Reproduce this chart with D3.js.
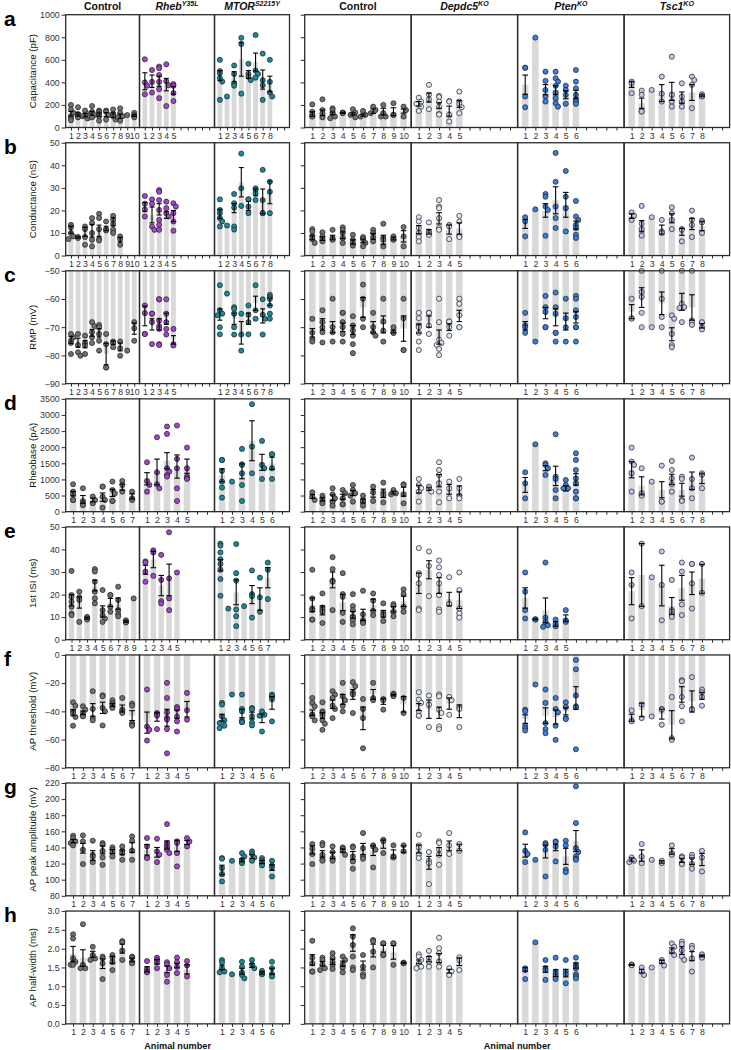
<!DOCTYPE html>
<html><head><meta charset="utf-8">
<script src="https://cdn.jsdelivr.net/npm/d3@7"></script>
<style>
body{margin:0;background:#fff}
svg{display:block}
text{font-family:Arial,"Liberation Sans",Helvetica,sans-serif}
</style>
</head><body><svg id="c" width="731" height="1050"></svg>
<script>
// ---------- labels / axes ----------
const rowLetters = ["a","b","c","d","e","f","g","h"];
const yTitles = ["Capacitance (pF)","Conductance (nS)","RMP (mV)","Rheobase (pA)","1st ISI (ms)","AP threshold (mV)","AP peak amplitude (mV)","AP half-width (ms)"];
const yDomains = [[0,1000],[0,50],[-90,-50],[0,3500],[0,50],[-80,0],[80,220],[0,3]];
const yTickSteps = [200,10,10,500,10,20,20,0.5];
const leftSlots = [10,10,10,7,9,7,7,7];
const headerBase = ["Control","Rheb","MTOR","Control","Depdc5","Pten","Tsc1"];
const headerSup = ["","Y35L","S2215Y","","KO","KO","KO"];
const headerItalic = [false,true,true,false,true,true,true];
const dotColors = ["#717171","#a545cf","#1b8a9a","#717171","#dde6f4","#3d7fd6","#c6c3ec"];

// ---------- data: [mean, sem, [individual cells]] per animal ----------
// a: capacitance
const cap_ctrl1 = [[122,20,[200,160,130,100,80,65]],[115,15,[180,120,100,95,90]],[110,15,[150,120,100,80]],[125,18,[190,140,110,100,90]],[115,15,[150,140,120,100,60]],[115,18,[150,140,110,70]],[110,20,[160,120,100,70]],[100,20,[170,130,100,90,60]],[110,0,[110]],[105,8,[130,110,100,90]]];
const cap_rheb = [[410,75,[605,400,370,295]],[410,55,[510,405,310]],[410,45,[540,525,465,405,340,260]],[380,55,[560,410,375,190]],[330,35,[385,370,305,235]]];
const cap_mtor = [[460,45,[600,500,480,437,407,245]],[275,0,[275]],[450,45,[550,475,392,370]],[605,150,[795,740,300]],[470,35,[565,475,450,420]],[580,80,[820,505,475,442]],[425,85,[655,420,375,245]],[385,70,[600,405,310,275]]];
const cap_ctrl2 = [[120,20,[205,140,112,97]],[130,25,[250,155,127,90]],[125,12,[170,155,127,97,82]],[130,5,[133,130,128]],[120,10,[162,133,112,90]],[110,10,[147,112,97]],[145,20,[185,155,127]],[140,30,[200,127,97,97]],[140,35,[215,112,112]],[145,18,[185,155,97]]];
const cap_depdc5 = [[210,20,[265,230,210,185,147]],[265,40,[378,290,250,162]],[195,25,[280,270,230,185,120,115]],[145,45,[235,230,112,53]],[210,30,[318,230,210,180,127]]];
const cap_pten = [[380,85,[530,530,275,180]],[797,0,[797]],[335,45,[495,413,333,275,230]],[330,40,[495,437,407,370,310,260,215,185]],[290,35,[370,333,290,210]],[295,35,[510,407,348,290,245,230,210]]];
const cap_tsc1 = [[380,25,[407,392,304]],[215,45,[327,290,142,142]],[333,0,[333]],[305,75,[451,300,230]],[320,80,[628,290,230,185]],[265,50,[392,275,230,185]],[310,70,[451,420,378,171]],[280,8,[295,280,275]]];
// b: conductance
const gc_ctrl1 = [[11.4,1.5,[13.6,12.5,10,8.5,7.3]],[8,0.3,[8.2,7.8]],[10.5,2,[12.9,11.7,8.2,4.8]],[11,2.8,[16.6,14.4,10,7,4.1]],[11,2.5,[18.5,16.6,11.7,7.3,6.7]],[12,1,[15.1,11.7,11.1]],[15,1.8,[17.6,15.8,14,11.4,10]],[7,1,[8.5,7.3,4.8]],null,null];
const gc_rheb = [[21.5,2,[26.4,23,20.5,17.3]],[18,3.5,[24.9,22.9,12.9,11.4]],[20.5,2.5,[29,28.3,24.6,20.2,15.8,13.6,11.4]],[18,1.5,[23.9,21,18.8,17.3]],[17.5,2.5,[23.2,21.7,18.8,15.1,11]]];
const gc_mtor = [[18.5,2,[24.9,20.2,18.8,16.6,15.1,12.9]],[13.3,0,[13.3]],[21,2,[27.3,23.2,21.3,12.9,11.5]],[32.5,6.5,[45.2,29.8,22]],[22,2,[24.9,24.9,21.7,18.8]],[28,1.5,[29.8,29,27.6,24.6]],[24,5.5,[38,24.6,18.8,18.8]],[28,5,[32.7,28.3,18.8]]];
const gc_ctrl2 = [[8,1,[11.7,10.7,8.5,7.3,5.6]],[7.5,0.8,[10.3,8.5,7.3,6.3]],[8,1,[11.4,7.8,7]],[9,1.5,[12.5,11.4,10,7.8,5.6]],[6,1,[9.2,7,5.6,4.4]],[6.5,0.8,[8.2,7.3,5.6,4.1]],[8.5,1.3,[11.4,10,8.2,6.3]],[7,2,[14.1,7.8,7,4.1]],[7.5,0.6,[8.5,7.3,7]],[8.5,2.5,[12.6,8.5,4.1]]];
const gc_depdc5 = [[11.5,1.8,[17,15.1,12.2,10,8.2,6.3]],[10.5,1,[14.7,10.7,10,9.2]],[16.5,2.5,[24.6,21.7,21,16.6,12.2,11.4]],[11.5,2,[13.6,12.9,7.3]],[12,2.5,[17.6,15.1,8.5,8.2]]];
const gc_pten = [[14,2,[17,15.1,8.5]],[20.5,0,[20.5]],[20,3,[27.3,26.1,21.7,20.2,8.8]],[24.5,6,[45.5,32.7,21.7,16.6,12.2]],[22.5,5.5,[37.5,26.1,21,10.7]],[13.5,1.8,[24.2,17.3,15.8,13.6,12.2,9.2,7.8]]];
const gc_tsc1 = [[17.5,1,[19.1,17.6,15.8]],[13,2.5,[22,14.1,11.7,8.8]],[17,0,[17]],[11.5,2,[15.8,10.7,10]],[16.5,2,[21.4,18.8,15.8,11.7]],[10.5,1.5,[11.7,11.4,6.3]],[14,2.5,[19.9,15.8,13.6,8.2]],[13,2,[15.5,14.7,10]]];
// c: RMP
const rmp_ctrl1 = [[-74.5,1.2,[-72.4,-73.6,-74.8,-75.6,-79.5]],[-75.5,1.6,[-72.4,-76.3,-78.9,-80.1]],[-76,1.3,[-73,-75.6,-76.5,-79.5]],[-72,1.2,[-68.2,-69.6,-71.8,-73.6,-75.6]],[-72,1.5,[-69.2,-70,-72.4,-74.8,-78.3]],[-79.5,3.8,[-72.4,-76,-84.3,-84.3]],[-75.5,0.6,[-75.1,-75.6,-77.1]],[-77,1.4,[-75.1,-77.5,-80.1]],[-78.3,0,[-78.3]],[-70.5,2,[-68.2,-70.4,-74.8]]];
const rmp_rheb = [[-66,3.5,[-62.3,-65,-72.4,-72.4]],[-69,2,[-65.2,-65.2,-68.2,-76]],[-69,2,[-60.1,-60.1,-67.6,-69.6,-70.6,-76,-76.3]],[-67,2,[-60.1,-65.2,-68.2,-70.6,-72.6]],[-74.5,1.5,[-70.6,-76,-76.5]]];
const rmp_mtor = [[-65.5,2,[-55.1,-64,-65.2,-65.8,-70,-72.5]],[-58,0,[-58.1]],[-67,2,[-62.9,-63.5,-65.2,-70,-72.6]],[-72,4,[-65.2,-72.6,-78.3]],[-67,2,[-62.3,-65.6,-68.2,-72.5]],[-61.5,2.5,[-55.1,-64,-67]],[-66,2.5,[-60.1,-65.6,-67,-72.6]],[-61,1.3,[-58.5,-59.3,-59.9,-62.3,-65.2,-67]]];
const rmp_ctrl2 = [[-72,1.5,[-67,-72,-74.2,-75.1]],[-69,2,[-64,-68.2,-70,-71.8,-75.4]],[-70,2,[-59.9,-70,-71.8,-75.1]],[-70,1.5,[-64.9,-64.9,-68.2,-70,-72.4,-75.1]],[-71,1.6,[-66.1,-69.4,-71.2,-73,-76,-79.2]],[-63,3.5,[-54.9,-59.9,-67,-70]],[-70,2,[-64.9,-70,-71.8,-73]],[-69,3,[-59.9,-68,-71.2,-75.1]],[-71.5,0.5,[-70,-72,-72]],[-70.5,4.5,[-59.9,-66.8,-78.1,-78.1]]];
const rmp_depdc5 = [[-70.5,1.6,[-64.9,-66.8,-69.4,-70,-72,-75.1,-78.1]],[-68,2,[-64.9,-64.9,-69.4,-72.4]],[-73.5,2.5,[-59.9,-68.2,-74.4,-75.6,-76.3,-77.7,-79.9]],[-70,1.2,[-68,-68,-70,-73]],[-66,2,[-59.9,-61.7,-65.8,-70,-70]]];
const rmp_pten = [[-69.5,1.5,[-64.9,-69.4,-70,-72]],[-75,0,[-75.1]],[-65,2,[-58.9,-62.9,-64.6,-70,-70]],[-66.5,3,[-57.7,-62.9,-65.2,-72,-72,-75.1]],[-68,3,[-59.9,-66.8,-70,-75.1]],[-66.5,2,[-58.9,-59.9,-64,-66.4,-70,-70,-75.1]]];
const rmp_tsc1 = [[-64.5,2.5,[-59.9,-66.8,-67]],[-59.5,3.5,[-50,-57.5,-59.3,-64.9,-70]],[-70,0,[-70]],[-61.5,4,[-50,-59.9,-66.4,-70]],[-72.5,2.3,[-65.8,-67,-72.4,-76.3,-77.1]],[-61,3,[-50,-61.7,-62.9,-63.2,-68.2]],[-63,4.5,[-50,-67.6,-68.2,-69.2]],[-69.5,0.8,[-68.2,-70,-70.8]]];
// d: rheobase
const rheo_ctrl1 = [[560,70,[850,620,540,360,360]],[380,120,[725,330,260,200]],[360,60,[470,360,260]],[450,130,[777,777,466,362,124]],[580,110,[932,673,570,331,331]],[760,95,[953,828,621]],[470,80,[621,414,362]]];
const rheo_rheb = [[1020,190,[1533,950,828,621]],[1230,400,[2310,1222,849,725]],[1580,250,[2640,2413,1346,1243,1139,1087]],[1400,360,[2672,1636,1346,725,331]],[1410,220,[1988,1346,1087,1036,1015]]];
const rheo_mtor = [[1130,200,[1605,1605,1263,932,746,435]],[932,0,[932]],[1250,230,[1947,1470,1450,1191,828,331]],[2200,620,[3334,2019,1191]],[1530,250,[2195,1450,1346,1015]],[1500,190,[1781,1781,1346,1015]]];
const rheo_ctrl2 = [[470,60,[600,466,362]],[380,50,[497,414,331,259]],[430,90,[725,538,414,311,186]],[460,80,[673,570,414,228,228]],[580,80,[828,673,570,497,311]],[330,60,[497,362,311,186]],[570,120,[777,600,331]],[570,130,[900,600,518,290]],[590,40,[673,570,538]],[620,140,[849,828,538,259]]];
const rheo_depdc5 = [[700,120,[1015,828,725,621,311]],[700,40,[777,725,621]],[960,190,[1533,1294,1139,880,621,290]],[690,150,[932,725,414]],[660,140,[1015,725,497,414]]];
const rheo_pten = [[830,230,[1222,880,414]],[2092,0,[2092]],[1350,80,[1501,1450,1346,1139]],[1110,300,[2402,1087,1015,673,414]],[720,80,[984,828,725,725]],[1000,180,[1812,1605,1294,1036,880,621,414,414]]];
const rheo_tsc1 = [[1300,250,[1988,1553,1450,1191,621]],[800,280,[1346,570,497]],[932,0,[932]],[680,250,[1429,311,311]],[1000,160,[1574,1294,1036,849,621]],[680,200,[1087,1015,362,331]],[960,270,[1678,1015,725,414]],[1020,150,[1191,1139,725]]];
// e: 1st ISI
const isi_ctrl1 = [[17.5,2.5,[30.5,19.8,18.8,16.8,14.6,11.6,10.9]],[16.5,2.5,[21.3,18.8,17.6,7.9]],[9.5,0.4,[10.1,9.4,8.9]],[24,2.4,[31.3,30.2,25.7,21.3,18.3,16.1]],[12.5,2.5,[22,13.1,10.9,9.4,7.9]],[16.5,1.8,[19.8,19.8,14.6,12.4]],[16,2.5,[23.5,17.6,13.1,11.3,10.4]],[8,0.3,[8.6,7.9,7.6]],[18.3,0,[18.3]]];
const isi_rheb = [[31,2,[34.7,34.2,30.2,25.7]],[35.5,3.6,[39.6,38.7,28.3]],[24,4.5,[37.6,26.5,17.1,16.1]],[26.5,7,[47.6,27.2,18.3,13.1]],[29.8,0,[29.8]]];
const isi_mtor = [[33,2.5,[42.6,41.7,38.7,35.7,33.6,31,26.9,19.5]],[13.8,0,[13.8]],[21,5.5,[42.4,29.5,26.2,13.4,10.4,6]],[14.9,0,[14.9]],[20,4,[30.7,20.2,19.3,9.8]],[18,5,[27.5,18.8,12.4]],[27.5,4.5,[34.2,31,18]]];
const isi_ctrl2 = [[15.5,3,[31,18.3,13.8,13.1,8.9,8.9]],[13,2,[20.5,14.3,13.4,12.4,7.4]],[26.5,3.5,[36.6,31.3,26.2,25.7,13.1]],[16.5,3.6,[29.5,20.2,19,11.9,7.9]],[11,1.5,[20.2,14.9,13.1,10.4,9.8,8.6,6.8]],[11,2.5,[21.7,11.3,8.6,7.9,7.4]],[15.5,2.5,[20.5,17.3,12.8,10.9]],[11.5,1.5,[16.1,11.9,10.9,8.3]],[13.5,1.2,[15.8,14.9,12.4,10.4]],[17,2.3,[22.3,20.2,14.6,12.4]]];
const isi_depdc5 = [[25,4.5,[40.6,29.5,28.7,25,13.8,13.1]],[31,4,[39.1,32.7,19.3]],[24,3.5,[35.1,32.1,28.7,25,19.8,13.4,12.4]],[18,3,[27.7,15.8,15.8]],[17.5,3.7,[29.8,22,13.8,11.6,9.8]]];
const isi_pten = [[18.5,4.5,[29.8,21.3,13.1,9.4]],[9,0.2,[8.9,9.1]],[13,5.5,[34.2,9.8,7.9,6.4,5.7]],[7,1,[8.9,7.1,6]],[9.5,1.5,[13.1,8.6,7.9]]];
const isi_tsc1 = [[21.5,6,[29.8,24.3,9.4]],[28.7,13.9,[42.6,14.9]],[27.7,0,[27.7]],[24,9,[39.1,24.3,8.6]],[15,3.7,[26.5,13.1,12.4,11.3,10.1]],[23,5.5,[34.2,30.2,15.6,10.9]],[25,5,[33.6,33.6,25,13.8]],[27,6.4,[33.6,20.8]]];
// f: AP threshold
const thr_ctrl1 = [[-41,2.2,[-33.6,-36,-40,-41.2,-44,-50.2]],[-41,1.3,[-36.4,-38.8,-41.7,-43.1,-43.6]],[-39,4.5,[-25.7,-38.3,-44.8,-46.4]],[-37.5,4,[-28.6,-29.3,-37.6,-40,-50]],[-35.5,1,[-32.1,-34,-35.2,-36.9,-37.6]],[-38,2.5,[-30.5,-38.8,-40,-41.2]],[-43,3.5,[-34.5,-36,-48.3,-49.5,-50.2]]];
const thr_rheb = [[-48,7.5,[-24.5,-50.7,-53.1,-60.7]],[-44,3,[-41.2,-41.7,-43.1,-52.6]],[-44.5,6,[-19.8,-30.5,-40.7,-44.8,-45.9,-52.6,-69.8]],[-42,3,[-36.9,-38.3,-43.6,-47.1,-54.3]],[-38.5,5.5,[-26.9,-39.3,-45.9]]];
const thr_mtor = [[-44.5,2.4,[-34,-35.2,-43.6,-46.4,-48.3,-50.2,-51.9]],[-28,0,[-28.1]],[-41.5,3,[-28.1,-38.3,-40,-46.4,-47.6,-47.6]],[-43,2.5,[-37.6,-38.3,-43.6,-47.9,-50]],[-45,3,[-40,-42.4,-43.1,-54.3]],[-34,4.5,[-28.1,-29.3,-31.2,-47.1]]];
const thr_ctrl2 = [[-41,2,[-30.5,-34,-36.4,-42.4,-42.4,-43.6,-46.4]],[-43,2,[-33.6,-40,-41.2,-43.1,-46.4,-48.8,-53.1]],[-35,3,[-25.7,-28.1,-30.5,-36,-38.3,-44.8]],[-31.5,3.5,[-19.8,-29.3,-32.1,-36,-40]],[-28,3.5,[-19.3,-22.1,-26.9,-28.1,-41.2]],[-45,8,[-31.2,-38.3,-44.8,-66.2]],[-28,3.5,[-19.8,-30.5,-32.1]],[-33,2,[-31.2,-32.1,-38.8]],[-28.5,0.5,[-27.4,-28.1,-29.3]],[-35,5.5,[-30.5,-41.2]]];
const thr_depdc5 = [[-37,2.5,[-26.4,-31.7,-34,-40,-43.1,-43.1]],[-38.5,6.5,[-28.8,-35.2,-51.2]],[-41,4,[-28.1,-29.3,-38.8,-41.2,-50.7,-52.6]],[-34.5,4,[-29.8,-32.1,-42.4]],[-40,4.5,[-36.9,-38.3,-51.2]]];
const thr_pten = [[-45.5,3,[-38.8,-40,-50.2,-51.9,-53.6]],[-21,0,[-21]],[-43,5.5,[-24.5,-34,-48.3,-52.6,-55.5]],[-44,5,[-30.5,-38.3,-40.7,-50.2,-60.2]],[-40,2.5,[-33.6,-36.9,-44.8,-45.5]],[-30.5,8,[-3.6,-10.2,-28.8,-36.4,-37.1,-66.9]]];
const thr_tsc1 = [[-44.5,2.5,[-39.3,-46.4,-47.1]],[-39,4.8,[-35.2,-44.8]],[-43.6,0,[-43.6]],[-42,3.5,[-38.3,-38.8,-49.5]],[-49.5,10,[-29.8,-59,-60.2]],[-28,5.5,[-17.9,-18.6,-29.8,-36.4,-47.1]],[-33,7.5,[-15.7,-38.3,-38.8]],[-29,2.5,[-24.5,-26.4,-29.8,-36]]];
// g: AP peak amplitude
const amp_ctrl1 = [[148,2,[154.6,151.7,147.5,145.5,142.6]],[139,6,[155,147.5,137.2,119.4]],[130,6,[148.4,131,128.9,121.8]],[137,5,[145.5,143.4,135.9,127.6,118.5]],[135,2.5,[140.1,137.2,134.3,128.9]],[134,3,[141.3,135.9,133,124.7]],[140,6,[153.7,148.4,135.9,124.7]]];
const amp_rheb = [[137,6.5,[151.7,141.3,127.6,126.8]],[134,6,[150.8,135.1,131,121.8]],[143,5,[169,145.5,142.6,140.1,137.2,133]],[142,7,[147.5,145.5,133,116.5]],[146,2.5,[151.7,147.5,141.3]]];
const amp_mtor = [[112,6,[126.8,126,114.4,106.9,97.8]],[123.5,0,[123.5]],[124,2,[133,128.9,124.7,121.8,120.6]],[129,2.5,[135.1,131.8,127.6,123.5]],[122,2,[126.8,123.5,120.6,117.7]],[115,3.5,[123.5,117.7,115.2,104]]];
const amp_ctrl2 = [[137,5,[144.2,138.4,131.8,119.4]],[132,4,[145.5,142.6,131,124.7,123.5]],[130,4,[141.3,134.3,126.8,123.5]],[136,2,[140.1,138.4,135.9,131]],[130,5,[141.3,140.1,128.9,122.7,113.6]],[138,7,[157.9,139.2,128.9,126]],[136,6,[142.6,141.3,137.2,115.2]],[144,5,[149.6,147.5,133]],[132,5,[142.6,128.9,127.6]],[138,4,[142.6,135.1]]];
const amp_depdc5 = [[138,5,[155.8,142.6,140.1,131.8,126.8]],[121,8,[134.3,123.5,120.6,94.5]],[135,5,[147.5,145.5,137.2,131,118.5]],[142,6,[157.9,142.6,131.8]],[140,4,[144.2,135.9]]];
const amp_pten = [[136,8,[158.7,135.9,131.8,121.8]],[124.7,0,[124.7]],[135,8,[145.5,143.4,137.2,104]],[140,4,[147.5,146.7,141.3,122.7]],[129,10,[148.4,142.6,112.3,109.4]],[148,13,[215.9,170.3,139.2,134.3,128.9,126,124.7]]];
const amp_tsc1 = [[125,2,[127.6,123.5,121.8]],[130,7,[144.2,128.9,120.6]],[124.7,0,[124.7]],[122,1.5,[123.5,120.6]],[135,3.5,[142.6,133,131]],[124,2.5,[128.9,127.6,120.6,119.4]],[123,4,[131,127.6,119.4,113.6]],[125,7.5,[135.9,127.6,110.2]]];
// h: AP half-width
const hw_ctrl1 = [[1.86,0.2,[2.38,2.27,1.74,1.65,1.57,1.57]],[1.75,0.22,[2.65,1.57,1.48,1.48]],[1.85,0.08,[2.05,1.83,1.74,1.70]],[1.6,0.13,[1.79,1.74,1.61,1.19]],[1.7,0.09,[1.83,1.76,1.64,1.43]],[2.0,0.12,[2.2,2.17,1.95,1.7]],[1.7,0.05,[1.79,1.76,1.65,1.61]]];
const hw_rheb = [[1.45,0.07,[1.67,1.46,1.39,1.37]],[1.65,0.06,[1.76,1.70,1.64,1.48]],[1.45,0.09,[1.64,1.58,1.48,1.30,1.12]],[1.55,0.06,[1.76,1.64,1.52,1.35]],[1.45,0.12,[1.67,1.55,1.26]]];
const hw_mtor = [[1.5,0.06,[1.70,1.64,1.48,1.39,1.37]],[1.32,0,[1.32]],[1.4,0.08,[1.65,1.52,1.37,1.30,1.21]],[1.55,0.05,[1.70,1.58,1.48]],[1.35,0.03,[1.41,1.35,1.32]],[1.4,0.08,[1.65,1.48,1.32,1.26]]];
const hw_ctrl2 = [[1.7,0.14,[2.21,1.76,1.61,1.39,1.39]],[1.6,0.06,[1.76,1.70,1.58,1.48,1.43]],[1.65,0.07,[1.88,1.76,1.65,1.57,1.46]],[1.6,0.07,[1.79,1.70,1.58,1.50,1.37]],[2.15,0.22,[2.54,2.32,2.10,1.79,1.50,1.43]],[1.55,0.12,[1.83,1.52,1.32,1.26]],[1.95,0.17,[2.23,2.2,1.92,1.50]],[2.0,0.09,[2.14,2.14,1.83,1.83]],[1.9,0.18,[2.14,2.14,1.57]],[1.62,0.02,[1.63,1.61]]];
const hw_depdc5 = [[1.65,0.05,[1.85,1.79,1.70,1.61,1.52,1.48]],[1.72,0.07,[1.94,1.76,1.65,1.52]],[1.75,0.12,[2.29,2.01,1.88,1.65,1.52]],[1.4,0.05,[1.48,1.39,1.30]],[1.65,0.1,[1.77,1.70,1.43]]];
const hw_pten = [[1.45,0.05,[1.48,1.43,1.19]],[2.17,0,[2.17]],[1.45,0.08,[1.70,1.48,1.43,1.17]],[1.35,0.09,[1.76,1.39,1.32,1.26,1.19]],[1.35,0.1,[1.70,1.39,1.32,1.08]],[1.55,0.07,[1.76,1.58,1.52,1.48,1.32,1.26,1.21]]];
const hw_tsc1 = [[1.57,0.01,[1.58,1.57,1.56]],[1.4,0.05,[1.50,1.39,1.30]],[1.5,0,[1.5]],[1.65,0.04,[1.70,1.65,1.55]],[1.95,0.07,[2.14,2.05,1.92,1.83]],[1.95,0.1,[2.19,2.12,1.96,1.79,1.70]],[1.8,0.12,[2.08,2.01,1.74,1.39]],[1.8,0.02,[1.85,1.79,1.76]]];

const rowsData = [
  [cap_ctrl1,cap_rheb,cap_mtor,cap_ctrl2,cap_depdc5,cap_pten,cap_tsc1],
  [gc_ctrl1,gc_rheb,gc_mtor,gc_ctrl2,gc_depdc5,gc_pten,gc_tsc1],
  [rmp_ctrl1,rmp_rheb,rmp_mtor,rmp_ctrl2,rmp_depdc5,rmp_pten,rmp_tsc1],
  [rheo_ctrl1,rheo_rheb,rheo_mtor,rheo_ctrl2,rheo_depdc5,rheo_pten,rheo_tsc1],
  [isi_ctrl1,isi_rheb,isi_mtor,isi_ctrl2,isi_depdc5,isi_pten,isi_tsc1],
  [thr_ctrl1,thr_rheb,thr_mtor,thr_ctrl2,thr_depdc5,thr_pten,thr_tsc1],
  [amp_ctrl1,amp_rheb,amp_mtor,amp_ctrl2,amp_depdc5,amp_pten,amp_tsc1],
  [hw_ctrl1,hw_rheb,hw_mtor,hw_ctrl2,hw_depdc5,hw_pten,hw_tsc1]
];

// ---------- layout ----------
const svg = d3.select("#c");
const rowTop0 = 14.7, rowStep = 128.05, rowH = 112.8;
const leftEdges = [65.7,139.5,214.5,289.5];
const rightEdges = [304.7,411.2,517.6,624.1,729.6];
const panelEdges = p => p < 3 ? [leftEdges[p], leftEdges[p+1]] : [rightEdges[p-3], rightEdges[p-2]];
const AX = "#2b2b2b";

function swarm(vals, y, cx, maxOff) {
  const placed = [], out = [];
  const d = 2.4;
  vals.slice().sort((a,b)=>b-a).forEach(v => {
    const py = y(v);
    let off = 0;
    for (const c of [0, d, -d, 2*d, -2*d]) {
      if (Math.abs(c) > maxOff) continue;
      if (placed.every(q => Math.hypot(q[0]-c, q[1]-py) >= 4.0)) { off = c; break; }
    }
    placed.push([off, py]);
    out.push([cx + off, py]);
  });
  return out;
}

// headers
headerBase.forEach((h, p) => {
  const [x0, x1] = panelEdges(p);
  const t = svg.append("text").attr("x", (x0+x1)/2).attr("y", 10)
    .attr("text-anchor","middle").attr("font-size",10.5).attr("font-weight","bold").attr("fill","#111")
    .attr("font-style", headerItalic[p] ? "italic" : "normal");
  t.append("tspan").text(h);
  if (headerSup[p]) t.append("tspan").attr("font-size",7).attr("dy",-4).text(headerSup[p]);
});

rowsData.forEach((panels, r) => {
  const top = rowTop0 + r*rowStep, bottom = top + rowH;
  const dom = yDomains[r];
  const y = d3.scaleLinear().domain(dom).range([bottom, top]);
  const base = y(Math.max(dom[0], Math.min(dom[1], 0)));
  const ticks = d3.range(dom[0], dom[1] + 1e-9, yTickSteps[r]);
  const fmt = r === 7 ? d3.format(".1f") : d3.format("d");

  // row letter + y title
  svg.append("text").attr("x", 4).attr("y", top + 11).attr("font-size", 21).attr("font-weight","bold").attr("fill","#000").text(rowLetters[r]);
  svg.append("text").attr("transform", `translate(35.5,${(top+bottom)/2}) rotate(-90)`)
    .attr("text-anchor","middle").attr("font-size",9.7).attr("fill","#111").text(yTitles[r]);

  // y axes
  const gl = svg.append("g").attr("transform", `translate(${leftEdges[0]},0)`)
    .call(d3.axisLeft(y).tickValues(ticks).tickFormat(fmt).tickSize(4).tickSizeOuter(0).tickPadding(2));
  gl.select(".domain").remove();
  gl.selectAll("line").attr("stroke", AX).attr("stroke-width", 1);
  gl.selectAll("text").attr("font-size", 8.8).attr("fill","#333").attr("font-family","Arial, 'Liberation Sans', sans-serif");
  const gr = svg.append("g").attr("transform", `translate(${rightEdges[0]},0)`)
    .call(d3.axisLeft(y).tickValues(ticks).tickFormat("").tickSize(4).tickSizeOuter(0));
  gr.select(".domain").remove();
  gr.selectAll("line").attr("stroke", AX).attr("stroke-width", 1);

  panels.forEach((data, p) => {
    const [x0, x1] = panelEdges(p);
    const nSlots = p < 3 ? leftSlots[r] : 10;
    const x = d3.scalePoint().domain(d3.range(1, nSlots+1)).range([x0, x1]).padding(0.75);
    const step = x.step();
    const bw = Math.min(6.6, step*0.68);
    const g = svg.append("g");
    const items = data.map((d, i) => d ? {i: i+1, m: d[0], e: d[1], pts: d[2]} : null).filter(Boolean);

    // bars
    g.selectAll("rect.bar").data(items).enter().append("rect")
      .attr("x", d => x(d.i) - bw/2).attr("width", bw)
      .attr("y", d => Math.min(base, y(d.m))).attr("height", d => Math.abs(base - y(d.m)))
      .attr("fill", "#d9d9d9");

    // points
    items.forEach(d => {
      const pos = swarm(d.pts, y, x(d.i), step*0.4);
      g.selectAll(null).data(pos).enter().append("circle")
        .attr("cx", q => q[0]).attr("cy", q => q[1]).attr("r", 2.55)
        .attr("fill", dotColors[p]).attr("stroke", "#1e1e1e").attr("stroke-width", 0.7);
    });

    // error bars
    const cw = Math.min(2.8, step*0.35);
    items.filter(d => d.e > 0).forEach(d => {
      const cx = x(d.i), yl = y(d.m - d.e), yh = y(d.m + d.e);
      g.append("line").attr("x1", cx).attr("x2", cx).attr("y1", yl).attr("y2", yh).attr("stroke","#000").attr("stroke-width",1.1);
      g.append("line").attr("x1", cx-cw).attr("x2", cx+cw).attr("y1", yl).attr("y2", yl).attr("stroke","#000").attr("stroke-width",1.1);
      g.append("line").attr("x1", cx-cw).attr("x2", cx+cw).attr("y1", yh).attr("y2", yh).attr("stroke","#000").attr("stroke-width",1.1);
    });

    // x axis
    const nAnimals = data.length;
    const gx = svg.append("g").attr("transform", `translate(0,${bottom})`)
      .call(d3.axisBottom(x).tickSize(3).tickSizeOuter(0).tickPadding(2).tickFormat(d => d <= nAnimals ? d : ""));
    gx.select(".domain").remove();
    gx.selectAll("line").attr("stroke", AX).attr("stroke-width", 1);
    gx.selectAll("text").attr("font-size", 8.8).attr("fill","#333").attr("font-family","Arial, 'Liberation Sans', sans-serif");

    // panel frame
    svg.append("rect").attr("x", x0).attr("y", top).attr("width", x1 - x0).attr("height", rowH)
      .attr("fill","none").attr("stroke", AX).attr("stroke-width", 1.3);
  });
});

// x titles
[[leftEdges[0], leftEdges[3]], [rightEdges[0], rightEdges[4]]].forEach(([a,b]) => {
  svg.append("text").attr("x", (a+b)/2).attr("y", 1048.5).attr("text-anchor","middle")
    .attr("font-size", 9.2).attr("font-weight","bold").attr("fill","#111").text("Animal number");
});
</script>
</body></html>
